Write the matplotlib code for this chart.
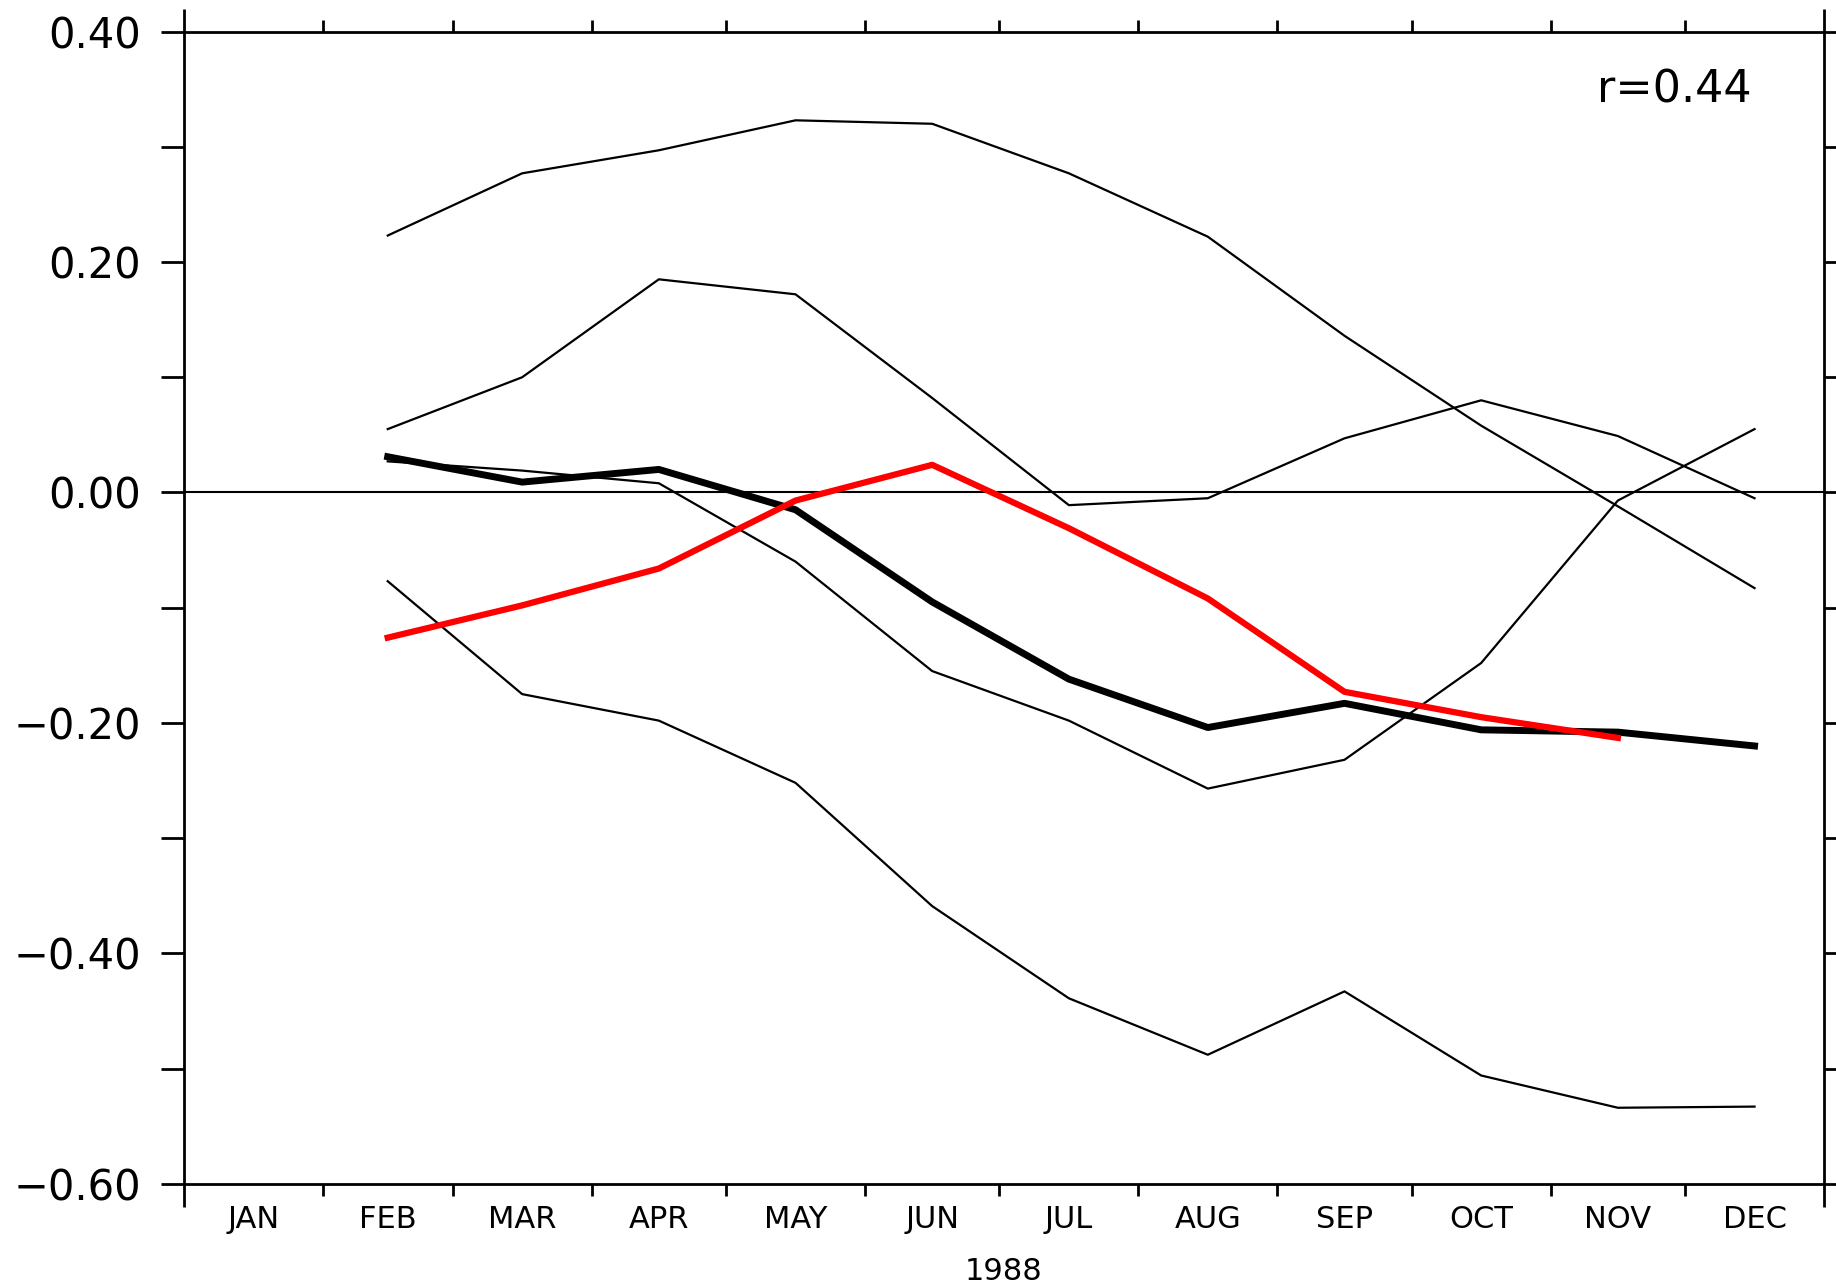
import numpy as np
import matplotlib
matplotlib.use('Agg')
import matplotlib.pyplot as plt

# 1988 is a leap year -> month boundaries in day-of-year
month_days = [31, 29, 31, 30, 31, 30, 31, 31, 30, 31, 30, 31]
month_names = ['JAN', 'FEB', 'MAR', 'APR', 'MAY', 'JUN',
               'JUL', 'AUG', 'SEP', 'OCT', 'NOV', 'DEC']
year_label = '1988'

# values for FEB..DEC
thin_1 = [0.223, 0.277, 0.297, 0.323, 0.320, 0.277, 0.222, 0.136, 0.058, -0.012, -0.083]
thin_2 = [0.055, 0.100, 0.185, 0.172, 0.082, -0.011, -0.005, 0.047, 0.080, 0.049, -0.005]
thin_3 = [0.027, 0.019, 0.008, -0.060, -0.155, -0.198, -0.257, -0.232, -0.148, -0.007, 0.055]
thin_4 = [-0.077, -0.175, -0.198, -0.252, -0.359, -0.439, -0.488, -0.433, -0.506, -0.534, -0.533]
thick_black = [0.031, 0.009, 0.020, -0.015, -0.095, -0.162, -0.204, -0.183, -0.206, -0.208, -0.220]
# red stops at NOV
red = [-0.126, -0.098, -0.066, -0.007, 0.024, -0.031, -0.092, -0.173, -0.195, -0.213]
r_text = 'r=0.44'

edges = np.concatenate(([0], np.cumsum(month_days)))
mids = edges[:-1] + np.array(month_days) / 2.0
x = mids[1:]

fig = plt.figure(figsize=(18.36, 12.87), dpi=100)
ax = fig.add_axes([183.8/1836, 1 - 1183.8/1287, (1824-183.8)/1836, (1183.8-31.6)/1287])

ax.axhline(0, color='black', lw=1.5, zorder=1)
for s in [thin_1, thin_2, thin_3, thin_4]:
    ax.plot(x, s, color='black', lw=1.6, zorder=2)
ax.plot(x, thick_black, color='black', lw=5, zorder=3)
ax.plot(x[:len(red)], red, color='#ff0000', lw=4.5, zorder=4)

ax.set_xlim(edges[0], edges[-1])
ax.set_ylim(-0.6, 0.4)

for sp in ax.spines.values():
    sp.set_linewidth(2)

# x: ticks at month edges, labels centred in months
ax.set_xticks(edges)
ax.set_xticklabels([])
ax.set_xticks(mids, minor=True)
ax.set_xticklabels(month_names, minor=True, fontsize=22)
ax.tick_params(axis='x', which='major', direction='out', length=8.6, width=2,
               top=True, bottom=True)
ax.tick_params(axis='x', which='minor', length=0, pad=15)
# year boundaries get long ticks
for t in [ax.xaxis.get_major_ticks()[0], ax.xaxis.get_major_ticks()[-1]]:
    t.tick1line.set_markersize(16.6)
    t.tick2line.set_markersize(16.6)

# y ticks every 0.1, labels every 0.2
yt = np.round(np.arange(-0.6, 0.41, 0.1), 2)
ax.set_yticks(yt)
ax.yaxis.set_major_formatter(matplotlib.ticker.FuncFormatter(
    lambda v, p: ('%.2f' % (round(v, 2) + 0.0)).replace('-', '\u2212')
    if abs(round(v * 10)) % 2 == 0 else ''))
ax.tick_params(axis='y', direction='out', length=16.6, width=2, left=True, right=True,
               pad=14, labelsize=30)

# year label under the month names
fig.text((183.8 + 1824) / 2 / 1836, 7 / 1287, year_label, fontsize=22,
         ha='center', va='baseline')

ax.text(0.956, 0.949, r_text, transform=ax.transAxes, ha='right', va='center', fontsize=32)

fig.savefig('out.png', dpi=100)
